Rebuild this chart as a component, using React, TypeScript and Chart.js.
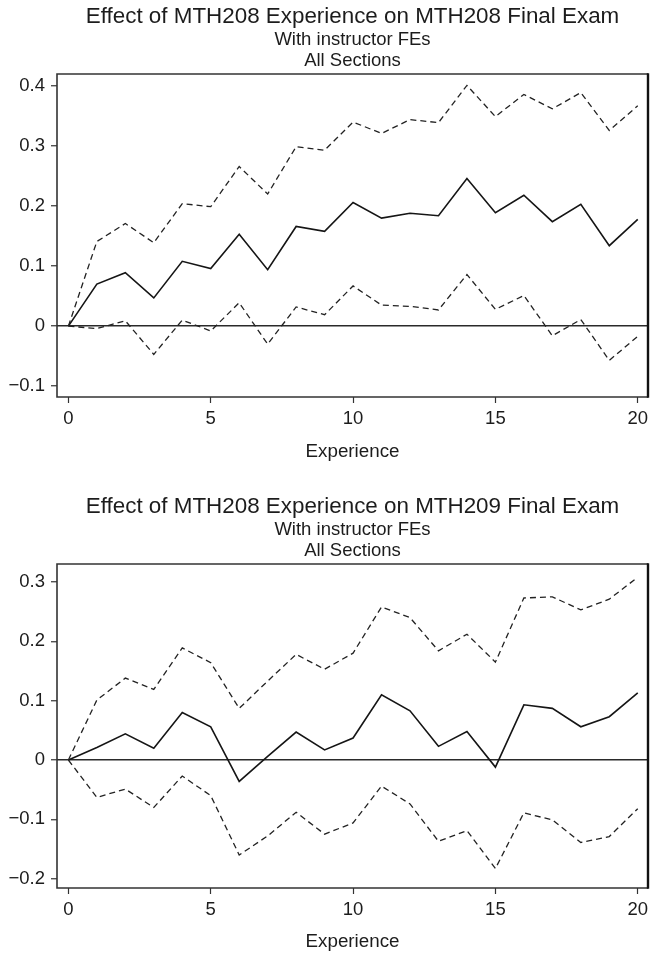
import React, { useEffect, useRef } from 'react';
import { Chart, registerables } from 'chart.js';

Chart.register(...registerables);

const FONT = '"Liberation Sans", Arial, Helvetica, sans-serif';
const INK = '#1c1c1c';

// ---- data ----
const experience = [0, 1, 2, 3, 4, 5, 6, 7, 8, 9, 10, 11, 12, 13, 14, 15, 16, 17, 18, 19, 20];
const xTicks = [0, 5, 10, 15, 20];
const xRange = [-0.4, 20.36];
const xAxisTitle = 'Experience';
const subtitleLines = ['With instructor FEs', 'All Sections'];

const title208 = 'Effect of MTH208 Experience on MTH208 Final Exam';
const est208 = [0, 0.070, 0.089, 0.047, 0.108, 0.096, 0.153, 0.094, 0.166, 0.158, 0.206, 0.180, 0.188, 0.184, 0.246, 0.189, 0.218, 0.174, 0.203, 0.134, 0.178];
const upper208 = [0, 0.141, 0.171, 0.139, 0.204, 0.199, 0.266, 0.220, 0.299, 0.293, 0.340, 0.321, 0.344, 0.339, 0.401, 0.349, 0.386, 0.362, 0.389, 0.326, 0.367];
const lower208 = [0, -0.004, 0.009, -0.047, 0.010, -0.008, 0.039, -0.030, 0.032, 0.019, 0.067, 0.035, 0.033, 0.027, 0.086, 0.028, 0.051, -0.016, 0.011, -0.057, -0.017];
const yTicks208 = [-0.1, 0, 0.1, 0.2, 0.3, 0.4];
const yRange208 = [-0.118, 0.42];

const title209 = 'Effect of MTH208 Experience on MTH209 Final Exam';
const est209 = [0, 0.021, 0.044, 0.020, 0.080, 0.056, -0.036, 0.006, 0.047, 0.017, 0.037, 0.110, 0.083, 0.023, 0.048, -0.012, 0.093, 0.087, 0.056, 0.073, 0.113];
const upper209 = [0, 0.101, 0.138, 0.119, 0.189, 0.164, 0.087, 0.133, 0.178, 0.153, 0.180, 0.258, 0.240, 0.184, 0.212, 0.165, 0.273, 0.275, 0.253, 0.271, 0.308];
const lower209 = [0, -0.063, -0.049, -0.080, -0.027, -0.060, -0.160, -0.128, -0.088, -0.125, -0.106, -0.044, -0.074, -0.137, -0.119, -0.183, -0.089, -0.101, -0.139, -0.129, -0.082];
const yTicks209 = [-0.2, -0.1, 0, 0.1, 0.2, 0.3];
const yRange209 = [-0.2157, 0.3303];

const fmtY = (v: number) => (Math.abs(v) < 1e-9 ? '0' : (v < 0 ? '\u2212' : '') + Math.abs(v).toFixed(1));

const framePlugin = {
  id: 'frame',
  afterDatasetsDraw(chart: any) {
    const { ctx, chartArea } = chart;
    const { left, top, right, bottom } = chartArea;
    ctx.save();
    ctx.strokeStyle = '#333';
    ctx.lineWidth = 1.6;
    ctx.beginPath();
    ctx.moveTo(right, top);
    ctx.lineTo(left, top);
    ctx.lineTo(left, bottom);
    ctx.lineTo(right, bottom);
    ctx.stroke();
    ctx.strokeStyle = '#111';
    ctx.lineWidth = 2.4;
    ctx.beginPath();
    ctx.moveTo(right, top - 0.8);
    ctx.lineTo(right, bottom + 0.8);
    ctx.stroke();
    ctx.restore();
  },
};

function toPoints(values: number[]) {
  return experience.map((x, i) => ({ x, y: values[i] }));
}

function makeConfig(title: string, est: number[], upper: number[], lower: number[], yTicks: number[], yRange: number[], xAxisHeight: number) {
  const dashed = { borderColor: '#222', borderWidth: 1.3, borderDash: [6, 4], pointRadius: 0, tension: 0, fill: false };
  return {
    type: 'line',
    data: {
      datasets: [
        { label: 'upper', data: toPoints(upper), ...dashed },
        { label: 'lower', data: toPoints(lower), ...dashed },
        { label: 'estimate', data: toPoints(est), borderColor: '#151515', borderWidth: 1.6, pointRadius: 0, tension: 0, fill: false },
      ],
    },
    options: {
      animation: false,
      responsive: false,
      devicePixelRatio: 1,
      layout: { padding: { left: 0, right: 4, top: 0, bottom: 0 } },
      plugins: {
        legend: { display: false },
        tooltip: { enabled: false },
        title: {
          display: true,
          text: title,
          fullSize: false,
          color: INK,
          font: { family: FONT, size: 22.4, weight: 'normal', lineHeight: 26.4 / 22.4 },
          padding: { top: 3.3, bottom: 0 },
        },
        subtitle: {
          display: true,
          text: subtitleLines,
          fullSize: false,
          color: INK,
          font: { family: FONT, size: 18.5, weight: 'normal', lineHeight: 20.3 / 18.5 },
          padding: { top: 0.4, bottom: 3.3 },
        },
      },
      scales: {
        x: {
          type: 'linear',
          min: xRange[0],
          max: xRange[1],
          afterBuildTicks: (s: any) => { s.ticks = xTicks.map((v) => ({ value: v })); },
          afterFit: (s: any) => { s.height = xAxisHeight; s.paddingLeft = 0; s.paddingRight = 0; },
          ticks: { color: INK, font: { family: FONT, size: 18.5 }, padding: 5, maxRotation: 0, autoSkip: false },
          grid: { drawOnChartArea: false, drawTicks: true, tickLength: 6, tickColor: '#333', tickWidth: 1.2 },
          border: { display: false },
          title: { display: true, text: xAxisTitle, color: INK, font: { family: FONT, size: 18.8 }, padding: { top: 0, bottom: 27 } },
        },
        y: {
          type: 'linear',
          min: yRange[0],
          max: yRange[1],
          afterBuildTicks: (s: any) => { s.ticks = yTicks.map((v) => ({ value: v })); },
          afterFit: (s: any) => { s.width = 57; s.paddingTop = 0; s.paddingBottom = 0; },
          ticks: { color: INK, font: { family: FONT, size: 18.5 }, padding: 6, autoSkip: false, callback: (v: number) => fmtY(v) },
          grid: {
            drawOnChartArea: true,
            drawTicks: true,
            tickLength: 6,
            tickColor: '#333',
            tickWidth: 1.2,
            lineWidth: 1.5,
            color: (c: any) => (c.tick && Math.abs(c.tick.value) < 1e-9 ? '#2a2a2a' : 'rgba(0,0,0,0)'),
          },
          border: { display: false },
        },
      },
    },
    plugins: [framePlugin],
  };
}

function Panel({ config, top }: { config: any; top: number }) {
  const ref = useRef<HTMLCanvasElement | null>(null);
  useEffect(() => {
    if (!ref.current) return;
    const chart = new Chart(ref.current, config);
    return () => chart.destroy();
  }, [config]);
  return (
    <div style={{ position: 'absolute', left: 0, top, width: 652, height: 490 }}>
      <canvas ref={ref} width={652} height={490} style={{ display: 'block', width: 652, height: 490 }} />
    </div>
  );
}

const config208 = makeConfig(title208, est208, upper208, lower208, yTicks208, yRange208, 93);
const config209 = makeConfig(title209, est209, upper209, lower209, yTicks209, yRange209, 92);

export default function App() {
  return (
    <div style={{ position: 'absolute', left: 0, top: 0, width: 652, height: 953, overflow: 'hidden', background: '#fff' }}>
      <Panel config={config208} top={0} />
      <Panel config={config209} top={490} />
    </div>
  );
}
